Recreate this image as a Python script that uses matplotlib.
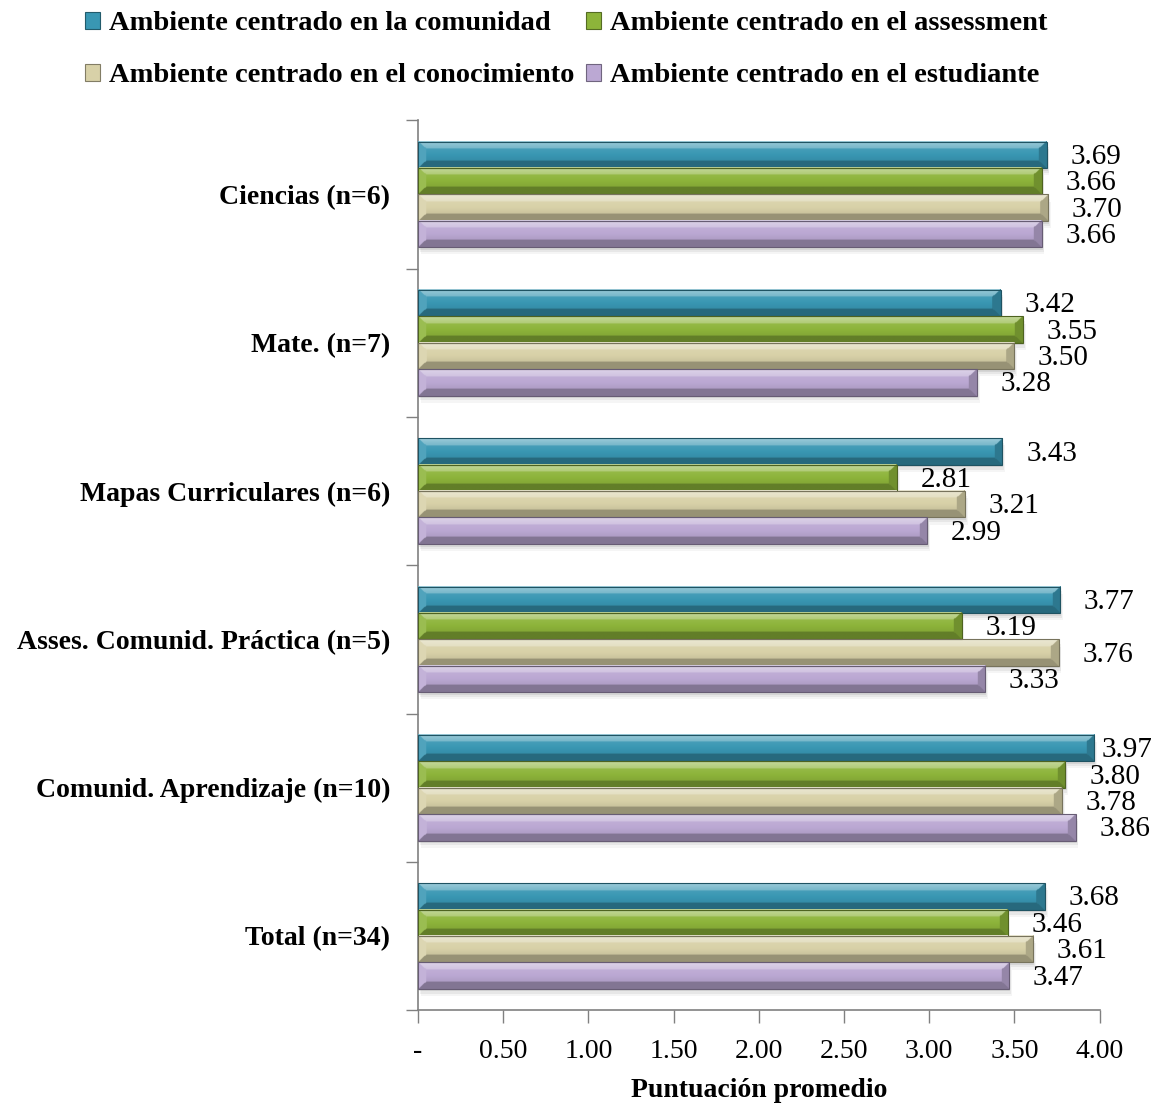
import numpy as np
import matplotlib
matplotlib.use("Agg")
import matplotlib.pyplot as plt
from matplotlib.patches import Patch
from matplotlib.colors import to_rgb

plt.rcParams['font.family'] = ['Liberation Serif', 'DejaVu Serif']

categories = ["Ciencias (n=6)", "Mate. (n=7)", "Mapas Curriculares (n=6)",
              "Asses. Comunid. Práctica (n=5)", "Comunid. Aprendizaje (n=10)",
              "Total (n=34)"]
series_names = ["Ambiente centrado en la comunidad",
                "Ambiente centrado en el assessment",
                "Ambiente centrado en el conocimiento",
                "Ambiente centrado en el estudiante"]
comunidad = [3.69, 3.42, 3.43, 3.77, 3.97, 3.68]
assessment = [3.66, 3.55, 2.81, 3.19, 3.80, 3.46]
conocimiento = [3.70, 3.50, 3.21, 3.76, 3.78, 3.61]
estudiante = [3.66, 3.28, 2.99, 3.33, 3.86, 3.47]
series_values = [comunidad, assessment, conocimiento, estudiante]
colors = ["#3997b3", "#8db43a", "#d8d1a8", "#bba8d3"]
x_ticks = [0, 0.5, 1.0, 1.5, 2.0, 2.5, 3.0, 3.5, 4.0]
x_tick_labels = ["-", "0.50", "1.00", "1.50", "2.00", "2.50", "3.00", "3.50", "4.00"]

fig = plt.figure(figsize=(11.55, 11.04), dpi=100)
ax = fig.add_axes([0.362, 0.085, 0.590, 0.806])

bar_h = 0.178
bev_x = 0.05    # bevel depth along value axis (data units)
bev_y = 0.05    # bevel depth across the bar (data units)


def mix(c, target, t):
    c = np.asarray(c)
    return c + (np.asarray(target) - c) * t


def bevel_image(width, height, base):
    nx = max(int(width / 0.004), 4)
    ny = 40
    xs = (np.arange(nx) + 0.5) / nx * width
    ys = (np.arange(ny) + 0.5) / ny * height   # 0 = top edge
    X, Y = np.meshgrid(xs, ys)
    dists = np.stack([Y / bev_y, (height - Y) / bev_y,
                      X / bev_x, (width - X) / bev_x])
    region = np.argmin(dists, axis=0)
    inside = dists.min(axis=0) >= 1
    base = np.asarray(to_rgb(base))
    img = np.empty((ny, nx, 3))
    # flat face: soft vertical gradient, lighter toward the top
    frac = Y / height
    t = 0.3 * (0.5 - frac)
    face = np.where(t[..., None] > 0,
                    base + (1 - base) * t[..., None],
                    base * (1 + t[..., None]))
    img[:] = face
    # bevelled rims: light top, dark bottom, lighter left, darker right
    top_f = np.clip(Y / bev_y, 0, 1)[..., None]
    light = mix(base, [1, 1, 1], 0.5) * (1 - top_f) + mix(base, [1, 1, 1], 0.3) * top_f
    side_light = np.broadcast_to(mix(base, [1, 1, 1], 0.12), img.shape)
    dark = np.broadcast_to(mix(base, [0, 0, 0], 0.3), img.shape)
    side_dark = np.broadcast_to(mix(base, [0, 0, 0], 0.2), img.shape)
    edge_cols = [light, dark, side_light, side_dark]
    for k in range(4):
        m = (~inside) & (region == k)
        img[m] = edge_cols[k][m]
    return np.clip(img, 0, 1)


value_texts = []
y_centers = np.arange(len(categories))
for i, (vals, col) in enumerate(zip(series_values, colors)):
    ys = y_centers + (i - 1.5) * bar_h
    # soft shadow beneath each bar
    for s, a in [(0.012, 0.10), (0.022, 0.07), (0.032, 0.05)]:
        ax.barh(ys + s * 1.5, vals, height=bar_h, left=s * 0.5, color="#404040",
                alpha=a, linewidth=0, zorder=1)
    bars = ax.barh(ys, vals, height=bar_h, color=col, linewidth=0, zorder=2)
    for rect, v in zip(bars, vals):
        x0, y0 = rect.get_x(), rect.get_y()
        w, h = rect.get_width(), rect.get_height()
        img = bevel_image(w, h, col)
        ax.imshow(img, extent=(x0, x0 + w, y0 + h, y0), aspect='auto',
                  interpolation='bilinear', zorder=3)
        ax.add_patch(plt.Rectangle((x0, y0), w, h, fill=False,
                                   edgecolor=mix(to_rgb(col), [0, 0, 0], 0.45),
                                   linewidth=0.8, zorder=4))
        t = ax.annotate(f"{v:.2f}", xy=(x0 + w, y0 + h / 2), xytext=(17, -1.5),
                        textcoords='offset points', ha='left', va='center',
                        fontsize=21, color='black', annotation_clip=False)
        value_texts.append(t)

ax.set_xlim(0, 4.0)
ax.set_ylim(len(categories) - 0.5, -0.5)
ax.set_xticks(x_ticks)
ax.set_xticklabels(x_tick_labels, fontsize=20)
ax.set_yticks(y_centers)
ax.set_yticklabels(categories, fontsize=20, fontweight='bold')
ax.set_yticks(np.arange(len(categories) + 1) - 0.5, minor=True)
ax.tick_params(axis='y', which='major', length=0, pad=20)
ax.tick_params(axis='y', which='minor', length=9, color='#808080', width=1)
ax.tick_params(axis='x', which='major', length=9, color='#808080', width=1, pad=12)
for side in ['top', 'right']:
    ax.spines[side].set_visible(False)
for side in ['left', 'bottom']:
    ax.spines[side].set_color('#808080')
    ax.spines[side].set_linewidth(1.2)
ax.set_xlabel("Puntuación promedio", fontsize=20, fontweight='bold', labelpad=10)

handles = [Patch(facecolor=c, edgecolor=mix(to_rgb(c), [0, 0, 0], 0.4), linewidth=0.8)
           for c in colors]
order = [0, 2, 1, 3]
fig.legend([handles[k] for k in order], [series_names[k] for k in order],
           loc='upper center', bbox_to_anchor=(0.49, 1.013), ncol=2,
           frameon=False, handlelength=0.55, handleheight=0.55,
           handletextpad=0.3, columnspacing=0.4, labelspacing=0.95,
           prop={'weight': 'bold', 'size': 20.5})

# keep value labels inside the figure: pull back any that run past the right edge
fig.canvas.draw()
renderer = fig.canvas.get_renderer()
fig_w = fig.bbox.width
for t in value_texts:
    bb = t.get_window_extent(renderer)
    over = bb.x1 - (fig_w - 3)
    if over > 0:
        dx_pt = over * 72 / fig.dpi
        ox, oy = t.xyann
        t.xyann = (ox - dx_pt, oy)

fig.savefig("out.png", dpi=100)
